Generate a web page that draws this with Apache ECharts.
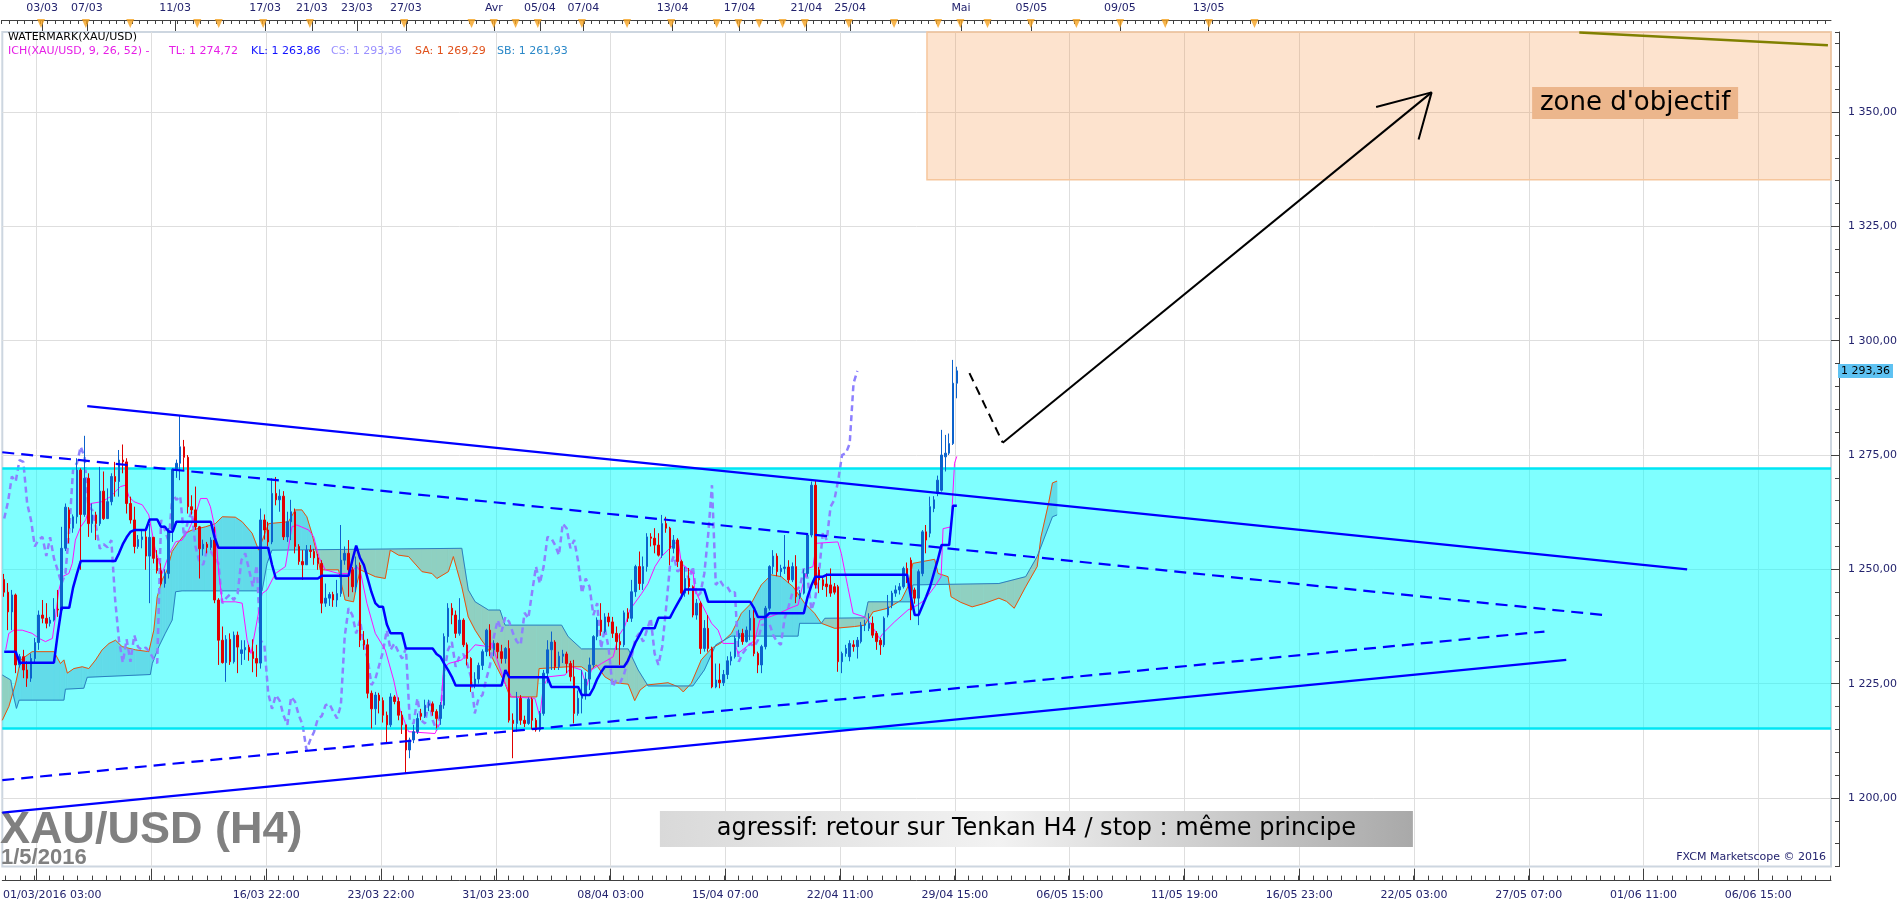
<!DOCTYPE html>
<html><head><meta charset="utf-8">
<script src="https://cdn.jsdelivr.net/npm/echarts@6/dist/echarts.min.js"></script>
<style>html,body{margin:0;padding:0;background:#fff}#c{width:1903px;height:908px}</style>
</head><body><div id="c"></div>
<script>
// ================= DATA =================
// H4 candles, index = bar number; [open, close, low, high]
const candles = [
[1247.8,1245.0,1244.0,1249.0],[1245.0,1240.7,1236.7,1247.0],[1240.7,1244.4,1236.7,1245.5],[1244.4,1229.1,1227.3,1244.7],
[1229.1,1230.9,1228.5,1231.5],[1230.9,1228.0,1226.2,1232.4],[1228.0,1226.2,1224.3,1229.9],[1226.2,1230.5,1225.4,1231.6],
[1230.5,1234.0,1229.5,1235.0],[1234.0,1240.0,1232.4,1241.0],[1240.0,1239.3,1238.2,1243.3],[1239.3,1238.2,1237.1,1242.6],
[1238.2,1238.9,1237.5,1239.6],[1238.9,1241.3,1238.6,1243.7],[1241.3,1241.1,1239.6,1245.5],[1241.1,1254.6,1240.5,1259.3],
[1254.6,1263.6,1254.0,1264.4],[1263.0,1259.0,1255.7,1263.6],[1259.0,1261.5,1258.0,1262.0],[1261.5,1271.7,1260.0,1274.3],
[1271.7,1262.0,1249.9,1272.1],[1262.0,1269.9,1261.5,1279.2],[1269.9,1260.0,1257.1,1271.0],[1260.0,1261.9,1258.0,1264.4],
[1261.9,1260.0,1256.4,1262.6],[1260.0,1267.1,1259.5,1272.4],[1267.1,1261.1,1260.8,1271.4],[1261.1,1264.8,1261.0,1267.7],
[1264.8,1270.3,1264.0,1271.0],[1270.3,1269.2,1265.9,1273.5],[1269.2,1273.9,1265.9,1276.1],[1273.9,1273.5,1271.0,1277.3],
[1273.5,1264.4,1262.2,1274.3],[1264.4,1260.8,1260.0,1265.9],[1260.8,1255.0,1253.5,1263.7],[1255.0,1256.5,1254.5,1257.5],
[1256.5,1257.1,1254.6,1258.6],[1257.1,1252.9,1249.9,1258.6],[1252.9,1257.0,1242.6,1259.9],[1257.0,1252.4,1251.3,1257.1],
[1252.4,1249.7,1249.1,1254.2],[1249.7,1246.9,1246.5,1251.3],[1246.9,1249.1,1246.0,1250.0],[1249.1,1258.6,1248.0,1259.0],
[1258.6,1271.9,1256.0,1272.1],[1271.9,1273.2,1270.0,1274.0],[1273.2,1276.8,1269.5,1283.7],[1276.8,1274.5,1271.7,1278.3],
[1274.5,1263.7,1262.2,1275.0],[1263.7,1263.0,1262.0,1266.2],[1263.0,1259.3,1258.6,1268.1],[1259.3,1254.5,1248.0,1259.5],
[1254.5,1255.5,1253.0,1256.5],[1255.5,1254.8,1253.5,1256.0],[1254.8,1256.4,1254.2,1257.0],[1256.4,1243.3,1242.6,1259.3],
[1243.3,1234.5,1229.1,1243.7],[1234.5,1229.6,1229.4,1237.5],[1229.6,1234.7,1225.4,1235.6],[1234.7,1229.8,1229.1,1236.0],
[1229.8,1235.6,1229.4,1236.4],[1235.6,1233.0,1227.3,1236.4],[1231.6,1232.4,1229.1,1234.5],[1232.4,1232.9,1230.2,1234.5],
[1232.9,1231.9,1230.0,1233.5],[1232.0,1230.5,1227.5,1234.7],[1230.5,1229.5,1226.5,1233.5],[1229.5,1260.8,1228.3,1263.3],
[1260.8,1258.6,1256.5,1262.0],[1258.6,1256.0,1255.0,1260.4],[1256.0,1266.6,1255.5,1269.9],[1266.6,1265.2,1264.0,1270.2],
[1265.2,1266.0,1262.6,1267.5],[1266.0,1257.1,1256.4,1267.1],[1257.1,1260.4,1256.0,1262.6],[1260.4,1262.6,1256.4,1265.2],
[1262.6,1255.0,1253.5,1263.3],[1255.0,1251.7,1251.0,1255.5],[1251.7,1251.0,1247.7,1254.2],[1251.0,1254.2,1251.0,1255.3],
[1254.2,1253.9,1252.5,1255.3],[1253.9,1252.5,1251.0,1254.5],[1252.5,1251.3,1249.9,1253.4],[1251.3,1242.6,1240.4,1252.0],
[1242.6,1243.7,1241.8,1246.9],[1243.7,1244.5,1242.0,1245.0],[1244.5,1243.3,1241.8,1245.1],[1243.3,1244.7,1241.8,1247.7],
[1244.7,1252.0,1244.0,1259.7],[1252.0,1253.5,1251.0,1255.0],[1253.5,1249.9,1244.0,1256.4],[1249.9,1246.2,1245.0,1250.5],
[1246.2,1250.9,1245.0,1252.8],[1250.9,1234.5,1233.0,1251.5],[1234.5,1233.5,1232.4,1236.5],[1233.5,1222.9,1221.8,1234.8],
[1222.9,1219.5,1215.2,1223.5],[1219.5,1222.5,1216.0,1223.2],[1222.5,1221.3,1218.5,1223.0],[1221.3,1218.1,1216.5,1222.0],
[1218.1,1216.0,1212.0,1218.9],[1216.0,1222.1,1215.5,1222.9],[1222.1,1221.1,1220.5,1222.5],[1221.1,1218.1,1217.0,1222.0],
[1218.1,1216.0,1214.0,1219.0],[1216.0,1210.5,1205.4,1216.0],[1210.5,1212.7,1208.7,1213.2],[1212.7,1214.5,1212.0,1216.0],
[1214.5,1217.4,1214.0,1218.5],[1218.5,1217.9,1217.0,1219.5],[1217.9,1220.3,1217.5,1221.5],[1220.3,1220.6,1219.0,1221.5],
[1220.6,1218.9,1218.0,1221.1],[1218.9,1217.4,1215.2,1219.4],[1217.4,1220.3,1216.0,1221.0],[1220.3,1235.3,1219.5,1236.0],
[1235.3,1241.5,1234.0,1242.6],[1241.5,1240.0,1238.0,1242.6],[1240.0,1236.0,1235.0,1241.0],[1236.0,1238.9,1235.5,1243.7],
[1238.9,1233.5,1233.0,1239.3],[1233.5,1230.5,1229.0,1234.0],[1230.5,1224.7,1223.2,1230.8],[1224.7,1226.0,1224.0,1227.5],
[1226.0,1229.0,1225.0,1229.6],[1229.0,1232.0,1228.0,1232.5],[1232.0,1236.7,1231.0,1237.0],[1236.7,1232.4,1231.0,1238.0],
[1232.4,1233.8,1231.0,1234.5],[1233.8,1232.0,1230.5,1234.0],[1232.0,1230.5,1229.4,1233.5],[1230.5,1232.7,1229.4,1233.0],
[1232.7,1217.0,1216.5,1234.5],[1217.0,1216.3,1208.7,1218.5],[1216.3,1221.8,1214.5,1223.2],[1221.8,1217.0,1216.0,1222.5],
[1217.0,1216.3,1215.5,1218.0],[1216.3,1221.6,1216.0,1222.0],[1221.6,1217.0,1215.0,1222.0],[1217.0,1214.9,1214.5,1217.5],
[1214.9,1218.5,1214.5,1219.0],[1218.5,1227.3,1218.0,1228.0],[1227.3,1232.4,1225.1,1234.5],[1232.4,1234.1,1228.0,1236.4],
[1234.1,1228.7,1228.0,1234.5],[1228.7,1231.0,1228.0,1232.0],[1231.0,1231.5,1229.5,1232.4],[1231.5,1229.4,1227.3,1232.0],
[1229.4,1226.5,1225.5,1230.0],[1226.5,1218.5,1216.3,1230.2],[1218.5,1221.8,1218.0,1223.5],[1221.8,1222.5,1218.5,1228.0],
[1222.5,1226.0,1221.5,1227.5],[1226.0,1229.1,1223.6,1230.7],[1229.1,1235.3,1228.5,1235.6],[1235.3,1238.9,1234.5,1239.5],
[1238.9,1236.4,1235.5,1242.6],[1236.4,1239.6,1236.0,1240.4],[1239.6,1238.5,1237.5,1240.5],[1238.5,1236.0,1235.0,1239.6],
[1236.0,1234.2,1232.4,1237.5],[1234.2,1233.5,1229.1,1236.0],[1233.5,1240.5,1233.0,1241.0],[1240.5,1239.3,1238.5,1241.5],
[1239.3,1245.1,1238.5,1247.7],[1245.1,1250.6,1244.0,1251.0],[1250.6,1246.9,1245.5,1253.9],[1246.9,1250.6,1245.5,1252.8],
[1250.6,1257.1,1249.5,1257.9],[1257.1,1256.8,1255.0,1257.9],[1256.8,1255.3,1253.5,1259.0],[1255.3,1253.1,1252.8,1257.9],
[1253.1,1260.0,1252.5,1261.9],[1260.0,1259.0,1258.0,1261.5],[1259.0,1254.6,1250.9,1259.3],[1254.6,1256.4,1253.5,1257.5],
[1256.4,1251.7,1250.5,1256.8],[1251.7,1244.8,1243.5,1252.1],[1244.8,1248.0,1244.0,1250.5],[1248.0,1246.2,1244.5,1250.3],
[1246.2,1240.0,1239.5,1246.5],[1240.0,1242.6,1239.0,1243.5],[1242.6,1232.7,1231.5,1243.0],[1232.7,1237.1,1232.0,1238.9],
[1237.1,1232.7,1232.0,1240.0],[1232.7,1224.3,1224.0,1233.1],[1224.3,1225.8,1224.0,1229.4],[1225.8,1225.2,1224.0,1229.4],
[1225.2,1227.0,1224.5,1228.0],[1227.0,1230.0,1226.0,1231.0],[1230.0,1230.9,1229.0,1232.0],[1230.9,1234.9,1230.5,1235.5],
[1234.9,1236.0,1233.0,1236.8],[1236.0,1234.2,1233.5,1237.0],[1234.2,1236.7,1234.0,1237.5],[1236.7,1239.3,1234.5,1241.1],
[1239.3,1231.6,1231.0,1241.1],[1231.6,1229.1,1227.3,1232.0],[1229.1,1233.1,1227.3,1233.5],[1233.1,1241.5,1232.5,1242.0],
[1241.5,1250.6,1241.0,1250.9],[1250.6,1252.9,1249.0,1254.2],[1252.9,1249.5,1248.5,1253.5],[1249.5,1250.2,1248.4,1251.0],
[1250.2,1250.5,1249.0,1257.5],[1250.5,1247.7,1247.0,1252.0],[1247.7,1250.6,1247.2,1251.5],[1250.6,1244.0,1242.6,1253.1],
[1244.0,1244.8,1243.5,1245.5],[1244.8,1249.1,1244.5,1250.0],[1249.1,1257.5,1248.4,1257.9],[1257.5,1268.4,1257.0,1269.2],
[1268.4,1246.6,1245.8,1269.5],[1249.9,1247.7,1244.8,1250.5],[1247.7,1246.4,1245.5,1248.5],[1246.8,1246.2,1244.0,1249.1],
[1246.6,1244.8,1244.0,1250.2],[1246.2,1245.0,1244.5,1247.0],[1246.2,1229.8,1227.6,1246.6],[1229.8,1231.6,1227.3,1232.0],
[1231.6,1232.7,1230.9,1233.5],[1230.9,1233.8,1229.9,1234.5],[1233.5,1233.1,1232.0,1234.5],[1233.1,1234.5,1230.5,1235.2],
[1234.2,1237.8,1233.8,1238.5],[1237.8,1238.0,1236.5,1239.0],[1237.1,1238.2,1236.5,1240.4],[1238.2,1235.6,1235.0,1239.7],
[1236.0,1234.2,1232.4,1236.5],[1234.5,1233.5,1231.3,1235.0],[1233.5,1239.3,1233.0,1239.7],[1240.0,1241.8,1239.5,1244.4],
[1242.2,1244.8,1241.5,1245.3],[1244.8,1245.5,1244.0,1246.5],[1245.5,1246.2,1244.5,1247.0],[1246.2,1250.2,1245.8,1250.6],
[1250.2,1248.0,1247.0,1251.5],[1252.0,1241.1,1238.9,1252.6],[1245.5,1243.7,1242.5,1246.0],[1243.7,1249.5,1237.8,1250.0],
[1249.1,1258.2,1248.5,1258.6],[1258.2,1256.4,1253.5,1259.7],[1257.9,1263.7,1257.0,1265.9],[1263.3,1265.2,1262.5,1266.0],
[1266.6,1269.5,1266.0,1270.5],[1267.3,1275.0,1267.0,1280.5],[1274.6,1275.4,1271.4,1279.4],[1275.4,1277.5,1275.0,1279.7],
[1277.5,1290.7,1277.2,1295.8],[1290.7,1293.4,1287.4,1294.3]
];

// Kijun-sen, one value per bar
const kijun = [
1232.0,1232.0,1232.0,1232.0,1229.6,1229.6,1229.6,1229.6,1229.6,1229.6,1229.6,1229.6,1229.6,1229.6,1236.0,1241.6,1241.6,1241.6,1246.0,1249.0,
1251.8,1251.8,1251.8,1251.8,1251.8,1251.8,1251.8,1251.8,1251.8,1251.8,1253.5,1255.5,1257.0,1258.2,1258.6,1258.6,1258.6,1258.6,1260.9,1260.9,
1260.9,1259.3,1259.3,1258.2,1258.2,1260.4,1260.4,1260.4,1260.4,1260.4,1260.4,1260.4,1260.4,1260.4,1260.4,1257.0,1254.7,1254.7,1254.7,1254.7,
1254.7,1254.7,1254.7,1254.7,1254.7,1254.7,1254.7,1254.7,1254.7,1254.7,1251.0,1248.0,1248.0,1248.0,1248.0,1248.0,1248.0,1248.0,1248.0,1248.0,
1248.0,1248.0,1248.0,1248.6,1248.6,1248.6,1248.6,1248.6,1248.6,1248.6,1248.6,1252.0,1255.2,1252.5,1251.0,1248.0,1245.0,1242.6,1241.8,1241.8,
1238.0,1236.0,1236.0,1236.0,1236.0,1232.7,1232.7,1232.7,1232.7,1232.7,1232.7,1232.7,1232.7,1231.5,1230.9,1229.4,1228.0,1226.5,1224.6,1224.6,
1224.6,1224.6,1224.6,1224.6,1224.6,1224.6,1224.6,1224.6,1224.6,1224.6,1224.6,1228.0,1226.4,1226.4,1226.4,1226.4,1226.4,1226.4,1226.4,1226.4,
1226.4,1226.4,1226.4,1224.3,1224.3,1224.3,1224.3,1224.3,1224.3,1224.3,1224.3,1222.5,1222.5,1222.5,1224.0,1226.0,1227.5,1228.7,1228.7,1228.7,
1228.7,1228.7,1228.7,1230.0,1232.0,1234.0,1235.5,1237.1,1237.1,1237.1,1237.1,1239.4,1239.4,1239.4,1239.4,1241.0,1242.5,1244.0,1245.6,1245.6,
1245.6,1245.6,1245.6,1245.6,1242.9,1242.9,1242.9,1242.9,1242.9,1242.9,1242.9,1242.9,1242.9,1242.9,1242.9,1242.9,1241.5,1239.6,1239.6,1239.6,
1240.4,1240.4,1240.4,1240.4,1240.4,1240.4,1240.4,1240.4,1240.4,1240.4,1244.0,1246.5,1248.4,1248.4,1248.4,1248.8,1248.8,1248.8,1248.8,1248.8,
1248.8,1248.8,1248.8,1248.8,1248.8,1248.8,1248.8,1248.8,1248.8,1248.8,1248.8,1248.8,1248.8,1248.8,1248.8,1248.8,1248.8,1244.0,1240.0,1240.0,
1242.0,1244.0,1246.2,1249.1,1252.0,1255.3,1255.3,1255.3,1263.9,1263.9
];

// Tenkan-sen, read points [bar, price]
const tenkan = [
[0.4,1232.4],[1.2,1236.0],[2.5,1236.7],[4.7,1236.7],[7.3,1236.0],[9.1,1234.9],[10.8,1234.2],[12.6,1234.9],[13.4,1239.6],[14.3,1245.5],
[15.2,1248.4],[16.9,1249.1],[17.8,1251.3],[18.6,1256.4],[20,1259.3],[21.3,1260.8],[22.6,1264.4],[25.6,1264.8],[27.8,1265.9],[29.1,1267.0],
[30.4,1268.1],[31.7,1268.4],[32.6,1265.9],[33.9,1264.8],[36.1,1264.1],[37.8,1261.9],[39.5,1254.2],[40.4,1252.0],[41.3,1249.1],[43,1253.1],
[44.8,1256.0],[46.5,1256.4],[48.2,1258.6],[50,1261.9],[51.3,1265.5],[53,1265.5],[53.9,1263.7],[55.2,1258.6],[56.1,1249.1],[57,1242.9],
[60.4,1242.9],[62.2,1242.6],[63.5,1234.5],[64.5,1231.6],[67.4,1244.7],[68.7,1245.5],[70.9,1249.1],[73.5,1250.6],[75.2,1259.3],[76.5,1259.7],
[79.6,1258.6],[80.9,1257.1],[82.2,1252.8],[83.9,1249.9],[87.4,1249.1],[90,1249.1],[92.2,1250.6],[93.1,1249.5],[94.8,1242.6],[97,1236.0],
[99.6,1232.4],[101.8,1225.8],[103.5,1219.2],[105.7,1214.5],[112.6,1214.1],[113.9,1216.3],[114.8,1228.0],[116.1,1229.4],[119.6,1230.2],[123.1,1233.5],
[126.6,1233.1],[127.4,1233.8],[130.9,1225.1],[132.6,1222.1],[138.7,1221.8],[140,1217.8],[140.9,1224.3],[142.2,1226.5],[146.6,1226.9],[148.3,1228.7],
[150.9,1228.0],[152.2,1224.3],[153.5,1228.0],[156.1,1229.4],[159.2,1230.9],[160.5,1235.3],[162.2,1237.5],[163.5,1241.1],[166.6,1244.7],[168.3,1246.9],
[170.1,1250.6],[171.8,1252.8],[175.3,1255.7],[176.2,1256.0],[177,1251.3],[180.1,1249.1],[180.5,1245.5],[182.2,1242.6],[184.9,1238.2],[186.6,1236.7],
[187.9,1233.8],[191,1233.8],[191.8,1231.6],[196.2,1234.5],[197.5,1238.9],[201.4,1240.0],[206.2,1241.8],[207.5,1242.2],[208.8,1246.9],[210.1,1250.2],
[211.4,1250.6],[212.3,1255.7],[217.9,1256.0],[218.8,1253.5],[220.5,1246.2],[221.9,1240.4],[224.9,1239.6],[226.2,1238.5],[228.8,1234.9],[229.7,1236.0],
[232.7,1238.5],[236.2,1241.1],[238.8,1242.2],[240.6,1243.3],[243.2,1246.2],[244.9,1248.4],[245.4,1258.9],[247.5,1259.3],[248.4,1273.2],[249,1274.7]
];

// Senkou span A (shifted +26), read points [bar, price]
const senkouA = [
[-0.5,1217.0],[1.2,1220.0],[3,1225.1],[4.3,1230.2],[7.3,1232.0],[13,1232.0],[14.7,1229.4],[15.6,1230.2],[16.5,1227.3],[18.2,1228.3],
[20.4,1228.7],[22.1,1228.3],[23.9,1230.2],[25.6,1232.4],[27.4,1233.8],[29.1,1234.5],[30.8,1233.1],[34.3,1232.4],[37.8,1232.0],[39.1,1236.7],
[40,1244.0],[41.3,1247.7],[42.6,1249.9],[43.9,1253.9],[45.6,1256.0],[47.4,1257.9],[49.1,1258.6],[52.6,1259.3],[55.2,1260.0],[57,1261.5],
[60.4,1261.4],[62.2,1260.4],[64.8,1257.9],[66.5,1254.2],[69.1,1260.0],[74.3,1260.4],[76.1,1263.0],[77.8,1263.0],[79.1,1261.5],[80.4,1257.9],
[81.7,1253.5],[82.6,1249.9],[87.4,1249.9],[88.3,1246.2],[89.1,1243.3],[91.3,1242.9],[92.2,1246.9],[93.1,1249.9],[97,1248.4],[99.6,1248.0],
[100.9,1254.2],[103.1,1253.1],[105.7,1252.8],[109.2,1249.5],[111.8,1249.1],[113.1,1248.0],[116.1,1249.5],[117.4,1252.8],[119.6,1246.2],[121.3,1239.6],
[123.1,1236.7],[124.8,1234.5],[126.6,1232.4],[128.3,1229.4],[130.9,1225.1],[132.2,1222.1],[139.2,1222.1],[139.8,1228.3],[147.4,1228.7],[150.9,1228.7],
[152.7,1227.6],[154.8,1229.1],[157,1226.5],[159.6,1225.2],[163.1,1224.9],[164.8,1221.3],[166.2,1223.6],[167.9,1224.7],[173.5,1225.2],[176.2,1224.3],
[177.5,1223.2],[179.6,1225.1],[182.2,1230.2],[184.9,1232.7],[187.5,1234.0],[190.1,1236.0],[192.7,1240.4],[195.3,1242.6],[197.9,1246.6],[200.5,1248.8],
[203.1,1248.4],[206.2,1246.2],[209.2,1242.6],[211.8,1240.4],[213.6,1238.2],[217.1,1237.1],[222.3,1237.5],[224.9,1237.8],[227.1,1240.7],[231,1241.5],
[234.5,1243.3],[236.2,1246.2],[237.5,1251.3],[243.2,1252.2],[244.1,1249.1],[246.7,1248.4],[247.5,1244.0],[250,1242.8],[253,1241.8],[256,1242.5],
[260,1243.7],[262,1243.0],[264,1241.5],[267,1246.2],[270,1250.6],[271,1257.1],[273,1264.5],[274,1268.9],[275.2,1269.3]
];

// Senkou span B (shifted +26), read points [bar, price]
const senkouB = [
[-0.5,1226.9],[1.7,1225.8],[2.5,1222.1],[3.2,1219.6],[3.9,1221.4],[15.6,1221.4],[16.0,1223.8],[20.8,1224.0],[21.7,1226.4],[30,1226.7],
[38.2,1227.0],[38.7,1229.4],[40.4,1233.1],[42.1,1236.0],[43.9,1238.9],[44.8,1245.1],[46.5,1245.3],[67.4,1245.3],[68.7,1251.3],[70,1254.2],
[119.6,1254.6],[121.3,1245.5],[123.1,1242.9],[126.6,1241.1],[129.6,1241.1],[130.9,1237.8],[145.7,1237.8],[147.4,1235.3],[150.9,1232.6],[163.1,1232.6],
[165.7,1228.0],[168.3,1224.5],[180,1224.5],[183,1228.0],[186,1233.5],[190,1235.4],[207.5,1235.4],[207.9,1238.2],[213.6,1238.2],[214.5,1239.3],
[224.9,1239.4],[225.8,1242.9],[237.1,1242.9],[237.5,1246.6],[260,1246.9],[267,1248.4],[270,1252.8],[274,1261.5],[275.2,1261.9]
];

// Hand-drawn lines [bar, price]
const trendUpperSolid = [[21.7,1285.7],[439.9,1250.0]];
const trendLowerSolid = [[-0.5,1196.8],[408.3,1230.2]];
const trendUpperDash  = [[-0.5,1275.6],[419.4,1239.9]];
const trendLowerDash  = [[-0.5,1203.9],[402.6,1236.4]];
const arrowDash  = [[252.3,1292.9],[261.0,1277.7]];
const arrowShaft = [[261.0,1277.7],[373.1,1354.3]];
const arrowHead  = [[358.6,1351.1],[373.1,1354.3],[369.7,1344.0]];
const oliveLine  = [[411.7,1367.4],[476.7,1364.6]];
const cyanZone   = [1215.2, 1272.0];
const targetZone = {fromBar: 241.2, low: 1335.2};
const lastPrice  = 1293.36;

// Axis labels
const bottomTickVals = [8.5,38.5,68.5,98.5,128.5,158.5,188.5,218.5,248.5,278.5,308.5,338.5,368.5,398.5,428.5,458.5];
const bottomLabelVals = [-0.5,68.5,98.5,128.5,158.5,188.5,218.5,248.5,278.5,308.5,338.5,368.5,398.5,428.5,458.5];
const bottomLabelTexts = ['01/03/2016 03:00','16/03 22:00','23/03 22:00','31/03 23:00','08/04 03:00','15/04 07:00','22/04 11:00','29/04 15:00','06/05 15:00','11/05 19:00','16/05 23:00','22/05 03:00','27/05 07:00','01/06 11:00','06/06 15:00'];
const topVals = [9.9,21.6,44.7,68.2,80.4,92.2,105.0,128.0,140.0,151.4,174.7,192.2,209.7,221.1,250.1,268.5,291.6,314.8];
const topTexts = ['03/03','07/03','11/03','17/03','21/03','23/03','27/03','Avr','05/04','07/04','13/04','17/04','21/04','25/04','Mai','05/05','09/05','13/05'];
const eventBars = [10.2,21.9,33.5,51.0,56.6,68.2,80.4,105.0,122.6,128.4,134.1,139.9,151.4,163.2,174.7,186.6,192.3,197.7,203.8,209.6,221.1,232.9,244.4,250.2,257.3,268.6,280.5,291.9,303.7,315.1,327.0];
const yTickVals = [1200,1225,1250,1275,1300,1325,1350];

// ================= CHART =================
const X_MIN = -0.5, X_MAX = 477.5, Y_MIN = 1185, Y_MAX = 1367.5;
const FONT = 'DejaVu Sans';
const NAVY = '#23236e';
const BULL = '#62dbe9', BEAR = '#8fd0c1';
const GRID_POS = {left: 0, right: 72, top: 32, bottom: 41.4};

function nearest(vals, texts, v) {
  let bi = 0, bd = 1e9;
  vals.forEach((x, i) => { const d = Math.abs(x - v); if (d < bd) { bd = d; bi = i; } });
  return texts[bi];
}
function fmtPrice(v) {
  const s = Number(v).toFixed(2).replace('.', ',');
  return s.length > 6 ? s.slice(0, s.length - 6) + ' ' + s.slice(-6) : s;
}
function interpAt(pts, x) {
  if (x <= pts[0][0]) return pts[0][1];
  for (let i = 1; i < pts.length; i++) {
    if (x <= pts[i][0]) {
      const [x0, y0] = pts[i - 1], [x1, y1] = pts[i];
      return y0 + (y1 - y0) * (x - x0) / (x1 - x0);
    }
  }
  return pts[pts.length - 1][1];
}
function renderCloud(params, api) {
  const xs = Array.from(new Set(senkouA.map(p => p[0]).concat(senkouB.map(p => p[0])))).sort((a, b) => a - b);
  const kids = [];
  const poly = (pts, bull) => {
    const c = bull ? BULL : BEAR;
    kids.push({type: 'polygon', shape: {points: pts.map(p => api.coord(p))}, style: {fill: c, stroke: c, lineWidth: 0.6}});
  };
  for (let i = 0; i < xs.length - 1; i++) {
    const x0 = xs[i], x1 = xs[i + 1];
    const a0 = interpAt(senkouA, x0), a1 = interpAt(senkouA, x1);
    const b0 = interpAt(senkouB, x0), b1 = interpAt(senkouB, x1);
    const d0 = a0 - b0, d1 = a1 - b1;
    if (d0 * d1 < 0) {
      const t = d0 / (d0 - d1), xc = x0 + t * (x1 - x0), yc = a0 + t * (a1 - a0);
      poly([[x0, a0], [xc, yc], [x0, b0]], d0 > 0);
      poly([[xc, yc], [x1, a1], [x1, b1]], d1 > 0);
    } else {
      poly([[x0, a0], [x1, a1], [x1, b1], [x0, b0]], d0 + d1 > 0);
    }
  }
  return {type: 'group', children: kids};
}

const bottomMinor = [];
for (let v = 8.5 - 3.75 * 2; v <= X_MAX; v += 3.75) if (v > X_MIN) bottomMinor.push(v);
const topMinor = [];
for (let v = 9.9 - 10; v <= X_MAX; v += 2) if (v > X_MIN) topMinor.push(v);

const candleData = candles.map((c, i) => [i, c[0], c[1], c[2], c[3]]);
const chikouData = candles.slice(26).map((c, i) => [i, c[1]]);
const kijunData = kijun.map((v, i) => [i, v]);

const hidden = {axisLine: {show: false, onZero: false}, axisLabel: {show: false}, splitLine: {show: false}};
const line = {show: true, onZero: false, lineStyle: {color: '#404040'}};
const tStyle = (color, size, weight, family) => ({fontSize: size || 11, color: color, fontWeight: weight || 'normal', fontFamily: family || FONT});
const tick = (len, vals) => ({show: true, inside: true, length: len, customValues: vals, lineStyle: {color: '#404040'}});

const chart = echarts.init(document.getElementById('c'), null, {renderer: 'canvas'});
chart.setOption({
  animation: false,
  backgroundColor: '#ffffff',
  title: [
    {text: 'WATERMARK(XAU/USD)', left: 8, top: 32, padding: 0, textStyle: tStyle('#000')},
    {text: 'ICH(XAU/USD, 9, 26, 52) -', left: 8, top: 46, padding: 0, textStyle: tStyle('#e61ee6')},
    {text: 'TL: 1 274,72', left: 169, top: 46, padding: 0, textStyle: tStyle('#e61ee6')},
    {text: 'KL: 1 263,86', left: 251, top: 46, padding: 0, textStyle: tStyle('#1010ff')},
    {text: 'CS: 1 293,36', left: 331, top: 46, padding: 0, textStyle: tStyle('#9a90ff')},
    {text: 'SA: 1 269,29', left: 415, top: 46, padding: 0, textStyle: tStyle('#e0501a')},
    {text: 'SB: 1 261,93', left: 497, top: 46, padding: 0, textStyle: tStyle('#2a88c8')},
    {text: 'XAU/USD (H4)', left: 0, top: 808, padding: 0, textStyle: tStyle('#808080', 45, 'bold', 'Liberation Sans')},
    {text: '1/5/2016', left: 1, top: 847, padding: 0, textStyle: tStyle('#808080', 22, 'bold', 'Liberation Sans')},
    {text: 'FXCM Marketscope \u00a9 2016', right: 77, top: 852, padding: 0, textStyle: tStyle(NAVY)}
  ],
  grid: [
    Object.assign({show: true, borderColor: '#cdd6e0', borderWidth: 2, backgroundColor: '#fff'}, GRID_POS),
    {left: 0, right: 72, top: 19, height: 9},
    Object.assign({show: false}, GRID_POS)
  ],
  xAxis: [
    {type: 'value', min: X_MIN, max: X_MAX, gridIndex: 0, position: 'bottom', offset: 14,
      axisLine: line,
      axisTick: tick(12, bottomTickVals),
      axisLabel: {show: true, customValues: bottomLabelVals, margin: 9, color: NAVY, fontSize: 11, fontFamily: FONT,
        formatter: v => { const t = nearest(bottomLabelVals, bottomLabelTexts, v); return v < 0 ? '{f|' + t + '}' : t; },
        rich: {f: {padding: [0, 0, 0, 100], color: NAVY, fontSize: 11, fontFamily: FONT}}},
      splitLine: {show: true, lineStyle: {color: '#dedede', width: 1}}},
    {type: 'value', min: X_MIN, max: X_MAX, gridIndex: 0, position: 'top', offset: 12,
      axisLine: line,
      axisTick: tick(11, topVals),
      axisLabel: {show: true, customValues: topVals, margin: 6, color: NAVY, fontSize: 11, fontFamily: FONT,
        formatter: v => nearest(topVals, topTexts, v)},
      splitLine: {show: false}},
    {type: 'value', min: X_MIN, max: X_MAX, gridIndex: 1, show: false, axisLine: {onZero: false}},
    Object.assign({type: 'value', min: X_MIN, max: X_MAX, gridIndex: 2, position: 'bottom', offset: 14, axisTick: tick(5, bottomMinor)}, hidden),
    Object.assign({type: 'value', min: X_MIN, max: X_MAX, gridIndex: 2, position: 'top', offset: 12, axisTick: tick(4, topMinor)}, hidden)
  ],
  yAxis: [
    {type: 'value', min: Y_MIN, max: Y_MAX, position: 'right', offset: 8, gridIndex: 0,
      axisLine: line,
      axisTick: tick(8, yTickVals),
      axisLabel: {show: true, customValues: yTickVals, margin: 9, color: NAVY, fontSize: 11, fontFamily: FONT, formatter: fmtPrice},
      splitLine: {show: true, lineStyle: {color: '#dedede', width: 1}}},
    {type: 'value', min: 0, max: 1, gridIndex: 1, show: false, axisLine: {onZero: false}},
    Object.assign({type: 'value', min: Y_MIN, max: Y_MAX, interval: 5, position: 'right', offset: 8, gridIndex: 2,
      axisTick: {show: true, inside: true, length: 4, lineStyle: {color: '#404040'}}}, hidden)
  ],
  series: [
    {name: 'zones', type: 'line', xAxisIndex: 0, yAxisIndex: 0, z: 1, silent: true, symbol: 'none',
      data: [[X_MIN, 1190]], lineStyle: {opacity: 0},
      markArea: {silent: true, label: {show: false}, data: [
        [{xAxis: X_MIN, yAxis: cyanZone[0], itemStyle: {color: 'rgba(0,255,255,0.5)'}}, {xAxis: X_MAX, yAxis: cyanZone[1]}],
        [{xAxis: targetZone.fromBar, yAxis: targetZone.low, itemStyle: {color: 'rgba(247,145,60,0.25)', borderColor: '#f6c69c', borderWidth: 1.5}}, {xAxis: X_MAX, yAxis: Y_MAX}]
      ]},
      markLine: {silent: true, symbol: ['none', 'none'], label: {show: false},
        lineStyle: {color: '#00e6f4', width: 2.5, type: 'solid', opacity: 1},
        data: [{yAxis: cyanZone[0]}, {yAxis: cyanZone[1]}]}
    },
    {name: 'cloud', type: 'custom', xAxisIndex: 0, yAxisIndex: 0, z: 2, silent: true,
      data: [[0, 1240]], renderItem: renderCloud},
    {name: 'SA', type: 'line', data: senkouA, z: 3, silent: true, symbol: 'none', lineStyle: {color: '#e8520c', width: 1}},
    {name: 'SB', type: 'line', data: senkouB, z: 3, silent: true, symbol: 'none', lineStyle: {color: '#2a80c0', width: 1}},
    {name: 'Chikou', type: 'line', data: chikouData, z: 4, silent: true, symbol: 'none',
      lineStyle: {color: '#8d80ff', width: 2.5, type: [6, 4]}},
    {name: 'Tenkan', type: 'line', data: tenkan, z: 4, silent: true, symbol: 'none', lineStyle: {color: '#ff10ff', width: 1}},
    {name: 'XAU/USD', type: 'candlestick', data: candleData, z: 5, silent: true, barWidth: 2,
      encode: {x: 0, y: [1, 2, 3, 4]},
      itemStyle: {color: '#0b62cc', color0: '#e00000', borderColor: '#0b62cc', borderColor0: '#e00000', borderWidth: 1}},
    {name: 'Kijun', type: 'line', data: kijunData, z: 6, silent: true, symbol: 'none', lineStyle: {color: '#0000ff', width: 2.5}},
    {name: 'trend1', type: 'line', data: trendUpperSolid, z: 7, silent: true, symbol: 'none', lineStyle: {color: '#0000ff', width: 2.2}},
    {name: 'trend2', type: 'line', data: trendLowerSolid, z: 7, silent: true, symbol: 'none', lineStyle: {color: '#0000ff', width: 2.2}},
    {name: 'trend3', type: 'line', data: trendUpperDash, z: 7, silent: true, symbol: 'none', lineStyle: {color: '#0000ff', width: 2.2, type: [12, 7]}},
    {name: 'trend4', type: 'line', data: trendLowerDash, z: 7, silent: true, symbol: 'none', lineStyle: {color: '#0000ff', width: 2.2, type: [12, 7]}},
    {name: 'olive', type: 'line', data: oliveLine, z: 7, silent: true, symbol: 'none', lineStyle: {color: '#808000', width: 2.5}},
    {name: 'arrowDash', type: 'line', data: arrowDash, z: 8, silent: true, symbol: 'none', lineStyle: {color: '#000', width: 2, type: [9, 6]}},
    {name: 'arrowShaft', type: 'line', data: arrowShaft, z: 8, silent: true, symbol: 'none', lineStyle: {color: '#000', width: 2}},
    {name: 'arrowHead', type: 'line', data: arrowHead, z: 8, silent: true, symbol: 'none', lineStyle: {color: '#000', width: 2}},
    {name: 'notes', type: 'line', z: 9, silent: true, symbol: 'none', data: [[X_MIN, 1190]], lineStyle: {opacity: 0},
      markLine: {silent: true, symbol: ['none', 'none'], lineStyle: {color: 'rgba(0,0,0,0)', width: 0, opacity: 1},
        label: {show: true, position: 'end', distance: 7, formatter: () => fmtPrice(lastPrice), color: '#000', opacity: 1,
          backgroundColor: '#5ec2f2', padding: [2, 3, 1, 3], fontSize: 11, fontFamily: FONT},
        data: [{yAxis: lastPrice}]},
      markPoint: {silent: true, data: [
        {coord: [426.3, 1352.0], symbol: 'rect', symbolSize: [206, 32], itemStyle: {color: '#ecb68c'},
          label: {show: true, position: 'inside', formatter: "zone d'objectif", color: '#000', fontSize: 26, fontFamily: FONT}},
        {coord: [269.8, 1193.2], symbol: 'rect', symbolSize: [753, 36],
          itemStyle: {color: new echarts.graphic.LinearGradient(0, 0, 1, 0, [
            {offset: 0, color: '#d9d9d9'}, {offset: 0.45, color: '#f2f2f2'}, {offset: 1, color: '#a9a9a9'}])},
          label: {show: true, position: 'inside', formatter: 'agressif: retour sur Tenkan H4 / stop : m\u00eame principe',
            color: '#000', fontSize: 24, fontFamily: FONT}}
      ]}},
    {name: 'events', type: 'scatter', xAxisIndex: 2, yAxisIndex: 1, silent: true, z: 3,
      data: eventBars.map(b => [b, 0.5]), symbol: 'triangle', symbolRotate: 180, symbolSize: [8, 9],
      itemStyle: {color: '#f5a321'}}
  ]
});
</script>
</body></html>
